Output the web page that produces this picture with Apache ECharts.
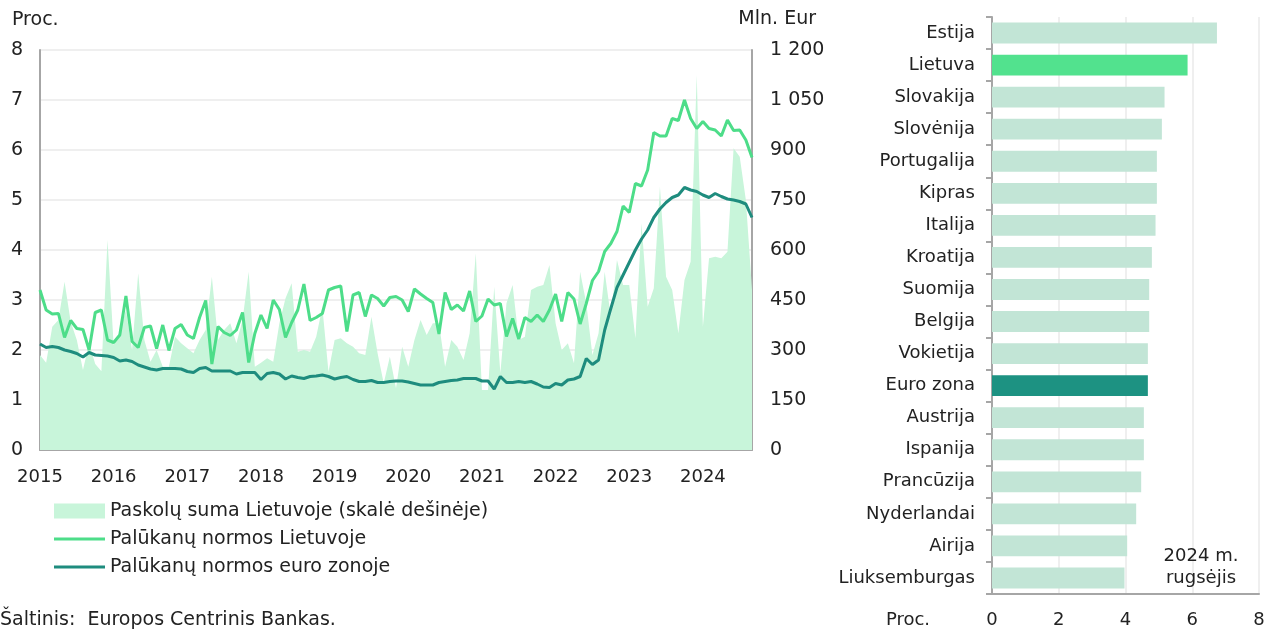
<!DOCTYPE html>
<html>
<head>
<meta charset="utf-8">
<script src="https://cdn.jsdelivr.net/npm/echarts@6/dist/echarts.min.js"></script>
<style>
    html, body { margin: 0; padding: 0; background: #fff; }
    #chart { width: 1274px; height: 629px; }
</style>
</head>
<body>
<div id="chart"></div>
<script>
// monthly data, 2015-01 .. 2024-09
var startYear = 2015;
var monthCount = 117;

var rateLithuania = [
    3.2, 2.8, 2.72, 2.73, 2.25, 2.59, 2.43, 2.41, 2.0, 2.75,
    2.8, 2.2, 2.15, 2.3, 3.08, 2.17, 2.05, 2.45, 2.48, 2.03,
    2.5, 1.99, 2.43, 2.51, 2.3, 2.23, 2.65, 2.99, 1.72, 2.47,
    2.35, 2.29, 2.4, 2.75, 1.75, 2.33, 2.7, 2.43, 3.0, 2.81,
    2.25, 2.55, 2.8, 3.32, 2.59, 2.65, 2.73, 3.2, 3.25, 3.28,
    2.37, 3.1, 3.15, 2.67, 3.1, 3.03, 2.88, 3.05, 3.07, 3.0,
    2.77, 3.22, 3.12, 3.03, 2.95, 2.32, 3.15, 2.81, 2.9, 2.78,
    3.18, 2.57, 2.68, 3.02, 2.9, 2.93, 2.27, 2.63, 2.22, 2.65,
    2.57, 2.7, 2.57, 2.8, 3.12, 2.57, 3.15, 3.02, 2.52, 2.93,
    3.39, 3.57, 3.97, 4.13, 4.37, 4.88, 4.75, 5.33, 5.28, 5.6,
    6.35, 6.28, 6.28, 6.63, 6.59, 7.0, 6.63, 6.43, 6.57, 6.43,
    6.4, 6.28, 6.6, 6.39, 6.4, 6.2, 5.85
];

var rateEuroArea = [
    2.12, 2.05, 2.07, 2.05, 2.0, 1.97, 1.93, 1.86, 1.95, 1.9,
    1.89, 1.88, 1.85, 1.78, 1.8, 1.77, 1.7, 1.66, 1.62, 1.6,
    1.63, 1.63, 1.63, 1.62, 1.57, 1.55, 1.63, 1.65, 1.58, 1.58,
    1.58, 1.58, 1.52, 1.55, 1.55, 1.55, 1.41, 1.53, 1.55, 1.52,
    1.42, 1.48, 1.45, 1.43, 1.47, 1.48, 1.5, 1.47, 1.42, 1.45,
    1.47, 1.41, 1.37, 1.37, 1.39, 1.35, 1.35, 1.37, 1.38, 1.38,
    1.36, 1.33, 1.3, 1.3, 1.3, 1.35, 1.37, 1.39, 1.4, 1.43,
    1.43, 1.43, 1.38, 1.38, 1.22, 1.47, 1.35, 1.35, 1.37, 1.35,
    1.37, 1.32, 1.26, 1.25, 1.33, 1.3, 1.4, 1.42, 1.47, 1.83,
    1.71, 1.8, 2.4, 2.83, 3.25, 3.5, 3.75, 4.0, 4.22, 4.4,
    4.65, 4.82, 4.95, 5.05, 5.1, 5.25, 5.2, 5.17, 5.1, 5.05,
    5.13, 5.07, 5.02, 5.0, 4.97, 4.92, 4.65
];

// Mln. Eur
var loanAmount = [
    285, 262, 370, 390, 505, 385, 330, 240, 320, 258,
    236, 630, 315, 355, 420, 300, 530, 330, 265, 300,
    250, 250, 340, 320, 305, 290, 330, 360, 520, 330,
    360, 380, 320, 390, 535, 250, 262, 275, 265, 380,
    455, 500, 295, 300, 295, 340, 428, 235, 330, 335,
    320, 310, 290, 285, 400, 290, 200, 280, 185, 310,
    250, 330, 390, 345, 380, 380, 250, 330, 310, 270,
    350, 590, 180, 180, 490, 230, 440, 495, 330, 340,
    480, 490, 495, 555, 380, 300, 320, 260, 535, 440,
    285, 350, 535, 400, 570, 495, 495, 335, 680, 430,
    485, 790, 520, 480, 350, 510, 565, 1125, 370, 575,
    580, 575, 595, 905, 880, 750, 480
];

// 2024 m. rugsėjis
var countries = ['Estija', 'Lietuva', 'Slovakija', 'Slovėnija', 'Portugalija', 'Kipras', 'Italija', 'Kroatija', 'Suomija',
    'Belgija', 'Vokietija', 'Euro zona', 'Austrija', 'Ispanija', 'Prancūzija', 'Nyderlandai', 'Airija', 'Liuksemburgas'];
var countryRates = [6.74, 5.86, 5.17, 5.09, 4.94, 4.94, 4.90, 4.79, 4.71, 4.71, 4.67, 4.67, 4.55, 4.55, 4.47, 4.32, 4.05, 3.97];

var leftTicks = [0, 1, 2, 3, 4, 5, 6, 7, 8];
var rightTicks = [0, 150, 300, 450, 600, 750, 900, 1050, 1200];
var barTicks = [0, 2, 4, 6, 8];

var months = [];
for (var i = 0; i < monthCount; i++) {
    var y = startYear + Math.floor(i / 12);
    var m = (i % 12) + 1;
    months.push(y + '-' + (m < 10 ? '0' + m : m));
}

var font = 'DejaVu Sans';
var textColor = '#222';
var axisGray = '#a6a6a6';
var gridGray = '#efefef';
var areaColor = '#c8f5da';
var litColor = '#4ddd89';
var euroColor = '#1e8c7e';

var barData = countries.map(function (c, i) {
    var color = '#c2e5d6';
    if (c === 'Lietuva') color = '#52e28e';
    if (c === 'Euro zona') color = '#1d9282';
    return { value: countryRates[i], itemStyle: { color: color } };
});

var legendText = { fontFamily: font, fontSize: 19, color: textColor, lineHeight: 20 };

var myChart = echarts.init(document.getElementById('chart'));
var option = {
    animation: false,
    textStyle: { fontFamily: font },
    grid: [
        { left: 40, right: 522, top: 50, bottom: 179 },
        { left: 992, right: 15, top: 17, bottom: 32 }
    ],
    legend: [
        {
            left: 54,
            top: 501,
            padding: 0,
            itemWidth: 51,
            itemHeight: 15,
            icon: 'rect',
            textStyle: legendText,
            data: [{ name: 'Paskolų suma Lietuvoje (skalė dešinėje)', itemStyle: { color: areaColor } }]
        },
        {
            orient: 'vertical',
            left: 54,
            top: 529,
            padding: 0,
            itemWidth: 51,
            itemHeight: 3,
            itemGap: 8,
            icon: 'rect',
            textStyle: legendText,
            data: ['Palūkanų normos Lietuvoje', 'Palūkanų normos euro zonoje']
        }
    ],
    xAxis: [
        {
            gridIndex: 0,
            type: 'category',
            data: months,
            boundaryGap: false,
            axisLine: { lineStyle: { color: axisGray, width: 2 } },
            axisTick: { show: false },
            axisLabel: {
                interval: function (index) { return index % 12 === 0; },
                formatter: function (v) { return v.slice(0, 4); },
                fontFamily: font, fontSize: 18, color: textColor, margin: 18
            },
            splitLine: { show: false }
        },
        {
            gridIndex: 1,
            type: 'value',
            min: barTicks[0],
            max: barTicks[barTicks.length - 1],
            interval: 2,
            axisLine: { show: true, lineStyle: { color: axisGray, width: 2 } },
            axisTick: { show: false },
            axisLabel: { fontFamily: font, fontSize: 18, color: textColor, margin: 17 },
            splitLine: { show: true, lineStyle: { color: gridGray, width: 2 } }
        }
    ],
    yAxis: [
        {
            gridIndex: 0,
            type: 'value',
            min: leftTicks[0],
            max: leftTicks[leftTicks.length - 1],
            interval: 1,
            axisLine: { show: true, lineStyle: { color: axisGray, width: 2 } },
            axisTick: { show: false },
            axisLabel: { fontFamily: font, fontSize: 19, color: textColor, margin: 17 },
            splitLine: { show: true, lineStyle: { color: gridGray, width: 2 } }
        },
        {
            gridIndex: 0,
            type: 'value',
            position: 'right',
            min: rightTicks[0],
            max: rightTicks[rightTicks.length - 1],
            interval: 150,
            axisLine: { show: true, lineStyle: { color: axisGray, width: 2 } },
            axisTick: { show: false },
            axisLabel: {
                fontFamily: font, fontSize: 19, color: textColor, margin: 18,
                formatter: function (v) { return v >= 1000 ? Math.floor(v / 1000) + ' ' + String(v % 1000).padStart(3, '0') : v; }
            },
            splitLine: { show: false }
        },
        {
            gridIndex: 1,
            type: 'category',
            data: countries,
            inverse: true,
            axisLine: { lineStyle: { color: axisGray, width: 2 } },
            axisTick: { show: true, inside: false, length: 6, lineStyle: { color: axisGray, width: 2 } },
            axisLabel: { fontFamily: font, fontSize: 18, color: textColor, margin: 17 }
        }
    ],
    series: [
        {
            name: 'Paskolų suma Lietuvoje (skalė dešinėje)',
            type: 'line',
            xAxisIndex: 0,
            yAxisIndex: 1,
            data: loanAmount,
            symbol: 'none',
            lineStyle: { width: 0 },
            itemStyle: { color: areaColor },
            areaStyle: { color: areaColor, opacity: 1 },
            z: 1
        },
        {
            name: 'Palūkanų normos Lietuvoje',
            type: 'line',
            xAxisIndex: 0,
            yAxisIndex: 0,
            data: rateLithuania,
            symbol: 'none',
            lineStyle: { width: 3, color: litColor },
            itemStyle: { color: litColor },
            z: 3
        },
        {
            name: 'Palūkanų normos euro zonoje',
            type: 'line',
            xAxisIndex: 0,
            yAxisIndex: 0,
            data: rateEuroArea,
            symbol: 'none',
            lineStyle: { width: 3, color: euroColor },
            itemStyle: { color: euroColor },
            z: 4
        },
        {
            name: 'Palūkanų normos 2024 m. rugsėjį',
            type: 'bar',
            xAxisIndex: 1,
            yAxisIndex: 2,
            data: barData,
            barCategoryGap: '35%'
        }
    ],
    graphic: [
        { type: 'text', x: 12, y: 20, style: { text: 'Proc.', font: '19px "DejaVu Sans"', fill: textColor, verticalAlign: 'middle' } },
        { type: 'text', x: 816, y: 19, style: { text: 'Mln. Eur', font: '19px "DejaVu Sans"', fill: textColor, align: 'right', verticalAlign: 'middle' } },
        { type: 'text', x: 0, y: 620, style: { text: 'Šaltinis:  Europos Centrinis Bankas.', font: '19px "DejaVu Sans"', fill: textColor, verticalAlign: 'middle' } },
        { type: 'text', x: 908, y: 620, style: { text: 'Proc.', font: '18px "DejaVu Sans"', fill: textColor, align: 'center', verticalAlign: 'middle' } },
        { type: 'text', x: 1201, y: 556, z: 10, style: { text: '2024 m.', font: '18px "DejaVu Sans"', fill: textColor, align: 'center', verticalAlign: 'middle' } },
        { type: 'text', x: 1201, y: 578, z: 10, style: { text: 'rugsėjis', font: '18px "DejaVu Sans"', fill: textColor, align: 'center', verticalAlign: 'middle' } }
    ]
};

if (option && typeof option === "object") {
    myChart.setOption(option, true);
}

window.addEventListener('resize', function () {
    myChart.resize();
});
</script>
</body>
</html>
